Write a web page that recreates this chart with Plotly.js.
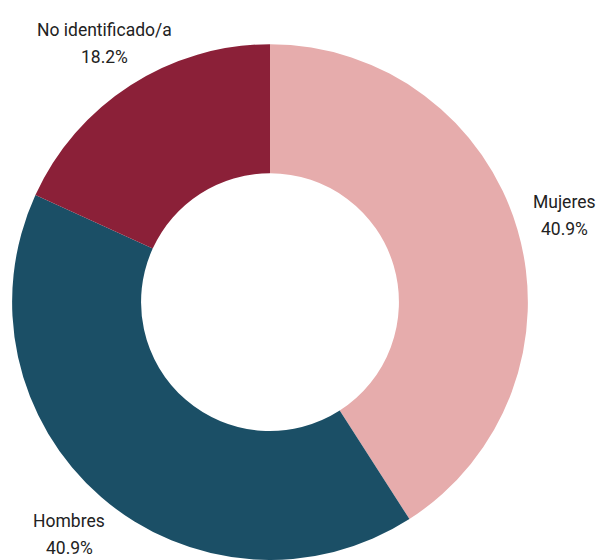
<!DOCTYPE html>
<html>
<head>
<meta charset="utf-8">
<script src="https://cdn.plot.ly/plotly-3.0.1.min.js"></script>
<style>html,body{margin:0;padding:0;background:#fff;}#chart{width:597px;height:560px;}</style>
</head>
<body>
<div id="chart"></div>
<script>
const categories = ["Mujeres", "Hombres", "No identificado/a"];
const counts = [9, 9, 4];
const colors = ["#e6acac", "#1b4f66", "#8b2038"];

const W = 597, H = 560;
const domX = [0, 0.9045], domY = [0, 0.921];

const trace = {
  type: "pie",
  labels: categories,
  values: counts,
  hole: 0.5,
  sort: false,
  direction: "clockwise",
  rotation: 0,
  marker: {colors: colors, line: {width: 0}},
  textinfo: "none",
  hoverinfo: "label+percent",
  domain: {x: domX, y: domY},
  automargin: false
};

// Label positions derived from the data (slice mid-angles)
const total = counts.reduce((a, b) => a + b, 0);
const cxPx = (domX[0] + domX[1]) / 2 * W;
const cyPx = (1 - (domY[0] + domY[1]) / 2) * H;
const rPx = Math.min((domX[1] - domX[0]) * W, (domY[1] - domY[0]) * H) / 2;
const labelDist = 1.19 * rPx;
const annotations = [];
let cum = 0;
counts.forEach((v, i) => {
  const mid = (cum + v / 2) / total * 2 * Math.PI;
  cum += v;
  const px = cxPx + labelDist * Math.sin(mid);
  const py = cyPx - labelDist * Math.cos(mid);
  const base = {
    xref: "paper", yref: "paper",
    x: px / W, y: 1 - py / H,
    xanchor: "center", yanchor: "middle",
    showarrow: false,
    font: {family: "Roboto, sans-serif", size: 17.5, color: "#222222"}
  };
  annotations.push(Object.assign({}, base, {text: categories[i], yshift: 13.5}));
  annotations.push(Object.assign({}, base, {text: (v / total * 100).toFixed(1) + "%", yshift: -13.5}));
});

const layout = {
  width: W,
  height: H,
  margin: {l: 0, r: 0, t: 0, b: 0},
  showlegend: false,
  paper_bgcolor: "#ffffff",
  font: {family: "Roboto, sans-serif", size: 17.5, color: "#222222"},
  annotations: annotations
};

Plotly.newPlot("chart", [trace], layout, {displayModeBar: false, staticPlot: true});
</script>
</body>
</html>
